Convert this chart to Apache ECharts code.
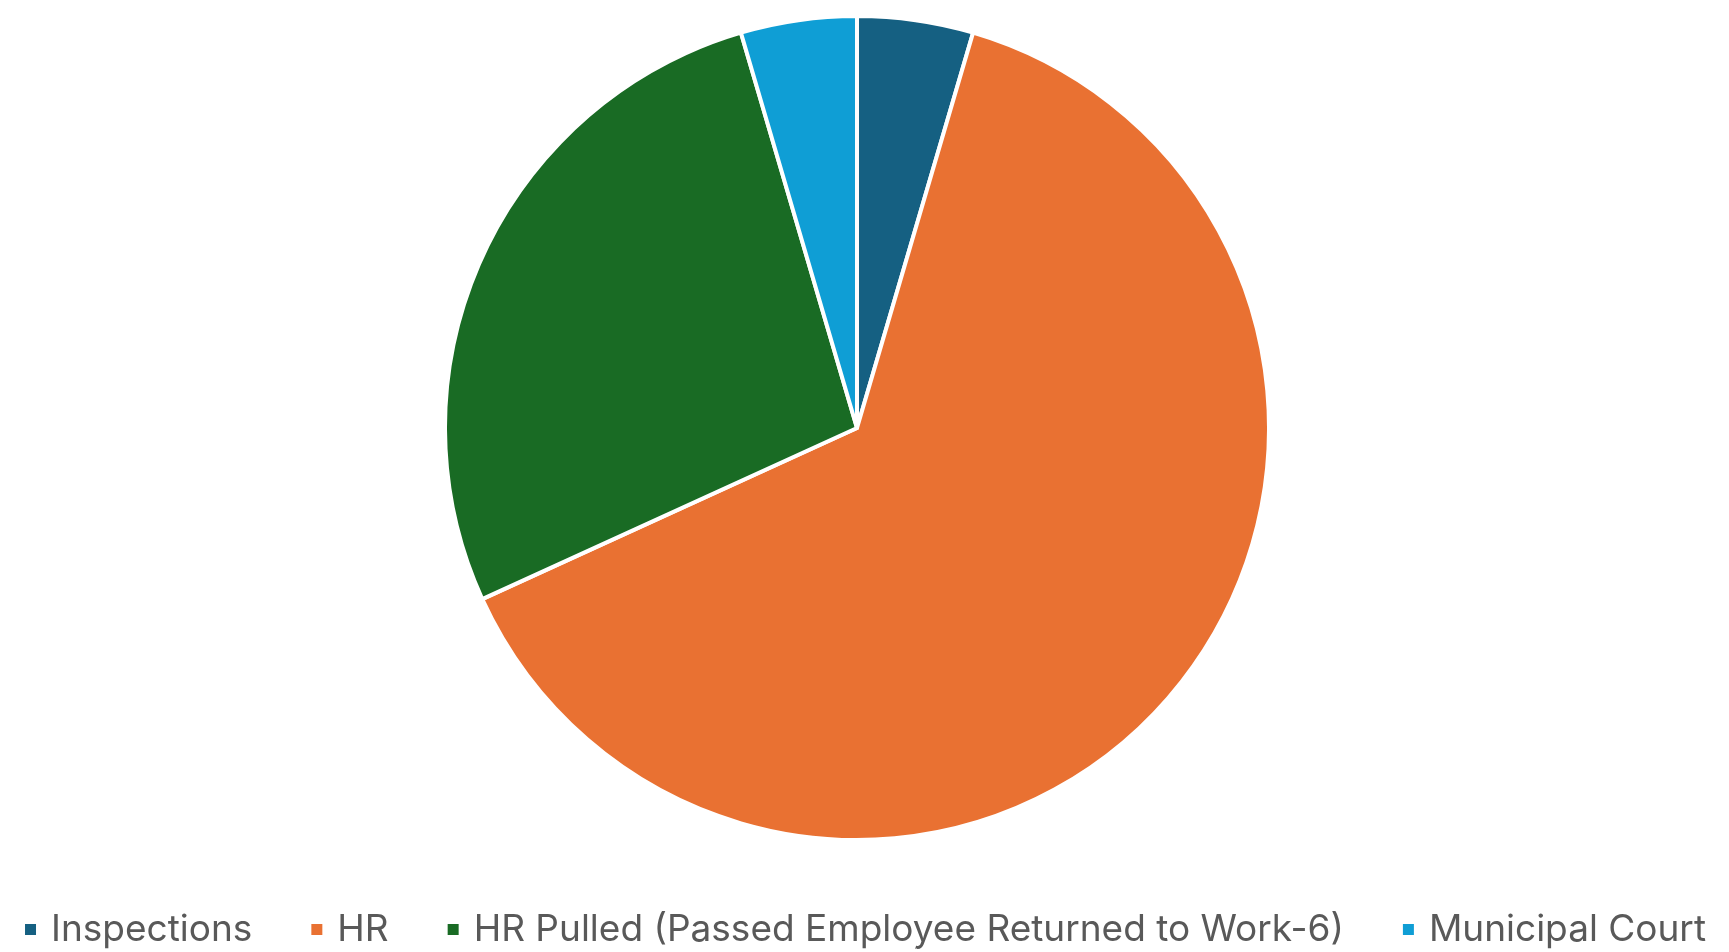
<!DOCTYPE html>
<html><head><meta charset="utf-8">
<script src="https://cdn.jsdelivr.net/npm/echarts@6/dist/echarts.min.js"></script>
<style>html,body{margin:0;padding:0;background:#fff}#c{width:1729px;height:952px}</style>
</head><body><div id="c"></div>
<script>
const categories = ["Inspections", "HR", "HR Pulled (Passed Employee Returned to Work-6)", "Municipal Court"];
const values = [1, 14, 6, 1];
const colors = ["#156082", "#E97132", "#196B24", "#0F9ED5"];

const chart = echarts.init(document.getElementById('c'));
chart.setOption({
  animation: false,
  color: colors,
  legend: {
    data: categories,
    left: 'center',
    top: 906,
    icon: 'rect',
    itemWidth: 13,
    itemHeight: 13,
    itemGap: 57,
    textStyle: { fontFamily: 'Inter', fontSize: 37, color: '#595959', padding: [0, 0, 0, 9] }
  },
  series: [{
    type: 'pie',
    center: [857, 428],
    radius: [0, 412],
    startAngle: 90,
    clockwise: true,
    label: { show: false },
    labelLine: { show: false },
    itemStyle: { borderColor: '#fff', borderWidth: 4 },
    data: categories.map((n, i) => ({ name: n, value: values[i] }))
  }]
});
</script></body></html>
